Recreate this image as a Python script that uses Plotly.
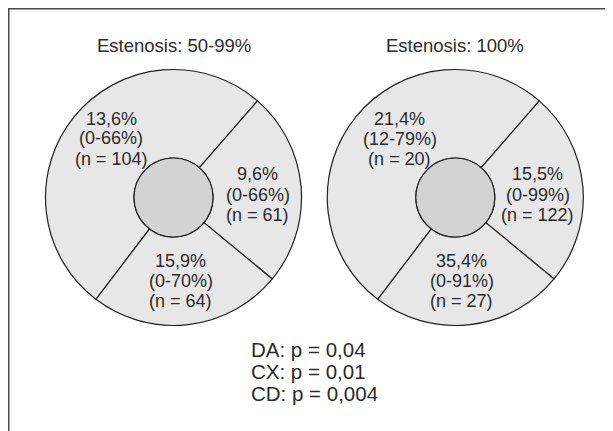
import plotly.graph_objects as go

# ---------------- data ----------------
panel_titles = ["Estenosis: 50-99%", "Estenosis: 100%"]
territories = ["DA", "CX", "CD"]
# angular share of each coronary territory in the bull's-eye diagram (degrees)
territory_share = [183.7, 88.5, 87.8]
pct_labels = [["13,6%", "9,6%", "15,9%"], ["21,4%", "15,5%", "35,4%"]]
range_labels = [["(0-66%)", "(0-66%)", "(0-70%)"], ["(12-79%)", "(0-99%)", "(0-91%)"]]
n_values = [[104, 61, 64], [20, 122, 27]]
p_territories = ["DA", "CX", "CD"]
p_values = ["0,04", "0,01", "0,004"]

# ---------------- layout constants (window pixels from top-left) ----------------
PAGE_MARGIN = 8            # default body margin of the html page
W, H = 613 - PAGE_MARGIN, 431 - PAGE_MARGIN
FONT = "Liberation Sans, Arial, Helvetica, sans-serif"
TXT = "#2b2b2b"
LINE = "#222222"
centers = [(173.5, 197.5), (455.3, 197.5)]
R_OUT, R_IN = 128, 39.5
label_pos = [[(111, 118.5), (257.5, 174.5), (180.5, 261)],
             [(399.5, 119), (537.5, 174.5), (461.5, 261)]]
LINE_PITCH = 20
title_y = 45


def px(x):
    return (x - PAGE_MARGIN) / W


def py(y):
    return (H - (y - PAGE_MARGIN)) / H


def domain(cx, cy, r):
    return dict(x=[px(cx - r), px(cx + r)], y=[py(cy + r), py(cy - r)])


fig = go.Figure()

for p, (cx, cy) in enumerate(centers):
    fig.add_trace(go.Pie(
        values=territory_share, labels=territories, sort=False,
        direction="clockwise", rotation=217.3,
        hole=R_IN / R_OUT, textinfo="none", hoverinfo="skip",
        showlegend=False,
        marker=dict(colors=["#e7e7e7"] * 3, line=dict(color=LINE, width=1.2)),
        domain=domain(cx, cy, R_OUT),
    ))
    fig.add_trace(go.Pie(
        values=[1], labels=["centro"], sort=False, textinfo="none",
        hoverinfo="skip", showlegend=False,
        marker=dict(colors=["#d3d3d3"], line=dict(color=LINE, width=1.2)),
        domain=domain(cx, cy, R_IN),
    ))

annotations = []
for p, (cx, cy) in enumerate(centers):
    annotations.append(dict(x=cx, y=title_y, text=panel_titles[p],
                            font=dict(size=18.5, color=TXT, family=FONT)))
    for t in range(len(territories)):
        lx, ly = label_pos[p][t]
        lines = [pct_labels[p][t], range_labels[p][t], f"(n = {n_values[p][t]})"]
        for k, s in enumerate(lines):
            annotations.append(dict(x=lx, y=ly + k * LINE_PITCH, text=s,
                                    font=dict(size=18, color=TXT, family=FONT)))

for k, (terr, pv) in enumerate(zip(p_territories, p_values)):
    annotations.append(dict(x=249, y=349.5 + k * 22, text=f"{terr}: p = {pv}",
                            xanchor="left",
                            font=dict(size=20.5, color=TXT, family=FONT)))

for a in annotations:
    a.setdefault("xanchor", "center")
    a["x"] = px(a["x"])
    a["y"] = py(a["y"])
    a.update(xref="paper", yref="paper", showarrow=False, yanchor="middle")

fig.update_layout(
    width=W, height=H,
    margin=dict(l=0, r=0, t=0, b=0),
    paper_bgcolor="white", plot_bgcolor="rgba(0,0,0,0)",
    annotations=annotations,
    shapes=[
        dict(type="line", xref="paper", yref="paper", x0=0, y0=-0.05,
             x1=0, y1=1.01, line=dict(color="#4a4a4a", width=3)),
        dict(type="line", xref="paper", yref="paper", x0=-0.01, y0=1,
             x1=1.05, y1=1, line=dict(color="#4a4a4a", width=3)),
    ],
)

fig.write_html("out.html")
